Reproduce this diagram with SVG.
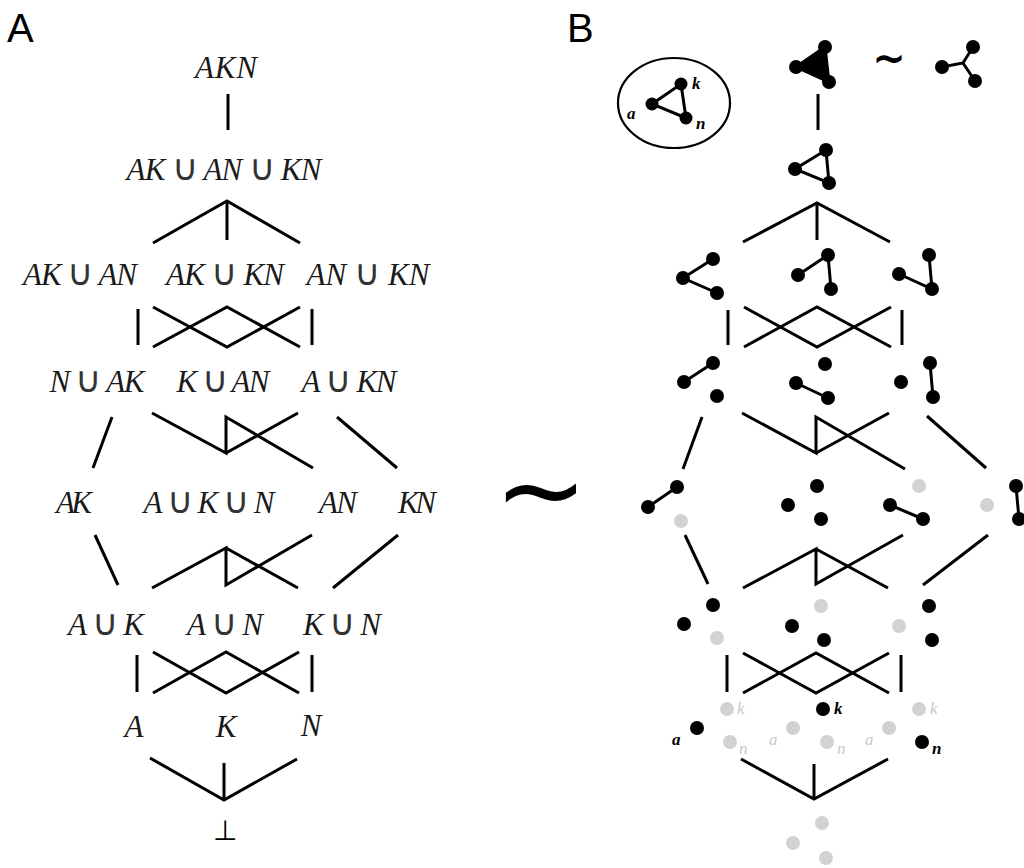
<svg xmlns="http://www.w3.org/2000/svg" width="1024" height="868" viewBox="0 0 1024 868">
<style>
.lbl{font-family:"Liberation Sans",Arial,sans-serif;font-size:40px;fill:#000}
.t{font-style:italic;font-size:31px;fill:#1a1a1a;text-anchor:middle}
.u{font-style:normal;font-weight:200;font-size:36px;fill:#333}
.e{stroke:#000;stroke-width:3;fill:none;stroke-linecap:butt;stroke-linejoin:miter}
.g{stroke:#000;stroke-width:3;fill:none}
.b{fill:#000}
.gr{fill:#d2d2d2}
.sl{font-style:italic;font-weight:bold;font-size:17px;fill:#000}
.sg{font-style:italic;font-size:17px;fill:#c8c8c8}
.tl{fill:#000}
</style>
<rect width="1024" height="868" fill="#fff"/>
<text class="lbl" x="7" y="42">A</text>
<text class="lbl" x="567" y="42">B</text>

<g id="panelA-nodes" font-family="'Liberation Serif', 'Times New Roman', serif">
<g id="a-akn"><text class="t" x="226" y="78" textLength="62">AKN</text></g>
<g id="a-ak-an-kn"><text class="t" x="224" y="180" textLength="195">AK <tspan class="u" font-family="'DejaVu Sans', sans-serif">∪</tspan> AN <tspan class="u" font-family="'DejaVu Sans', sans-serif">∪</tspan> KN</text></g>
<g id="a-ak-an"><text class="t" x="80" y="285" textLength="114">AK <tspan class="u" font-family="'DejaVu Sans', sans-serif">∪</tspan> AN</text></g>
<g id="a-ak-kn"><text class="t" x="225" y="285" textLength="118">AK <tspan class="u" font-family="'DejaVu Sans', sans-serif">∪</tspan> KN</text></g>
<g id="a-an-kn"><text class="t" x="368" y="285" textLength="123">AN <tspan class="u" font-family="'DejaVu Sans', sans-serif">∪</tspan> KN</text></g>
<g id="a-n-ak"><text class="t" x="97" y="392" textLength="95">N <tspan class="u" font-family="'DejaVu Sans', sans-serif">∪</tspan> AK</text></g>
<g id="a-k-an"><text class="t" x="223" y="392" textLength="93">K <tspan class="u" font-family="'DejaVu Sans', sans-serif">∪</tspan> AN</text></g>
<g id="a-a-kn"><text class="t" x="349" y="392" textLength="95">A <tspan class="u" font-family="'DejaVu Sans', sans-serif">∪</tspan> KN</text></g>
<g id="a-ak"><text class="t" x="74" y="513" textLength="36">AK</text></g>
<g id="a-a-k-n"><text class="t" x="209" y="513" textLength="131">A <tspan class="u" font-family="'DejaVu Sans', sans-serif">∪</tspan> K <tspan class="u" font-family="'DejaVu Sans', sans-serif">∪</tspan> N</text></g>
<g id="a-an"><text class="t" x="338" y="513" textLength="38">AN</text></g>
<g id="a-kn"><text class="t" x="417" y="513" textLength="38">KN</text></g>
<g id="a-a-k"><text class="t" x="106" y="635" textLength="76">A <tspan class="u" font-family="'DejaVu Sans', sans-serif">∪</tspan> K</text></g>
<g id="a-a-n"><text class="t" x="225" y="635" textLength="76">A <tspan class="u" font-family="'DejaVu Sans', sans-serif">∪</tspan> N</text></g>
<g id="a-k-n"><text class="t" x="342" y="635" textLength="78">K <tspan class="u" font-family="'DejaVu Sans', sans-serif">∪</tspan> N</text></g>
<g id="a-a"><text class="t" x="134" y="737">A</text></g>
<g id="a-k"><text class="t" x="226" y="737">K</text></g>
<g id="a-n"><text class="t" x="311" y="736">N</text></g>
<g id="a-bot"><text class="tl" x="225" y="840" font-size="28" text-anchor="middle" font-weight="200" font-family="'DejaVu Sans', sans-serif">⊥</text></g>
</g>

<text class="tl" x="541" y="528" font-size="112" text-anchor="middle" font-family="'DejaVu Sans', sans-serif">~</text>

<g id="connectors" class="e">
<!-- panel A -->
<line x1="228" y1="94" x2="228" y2="130"/>
<polyline points="153,243 227,201 300,243"/>
<line x1="227" y1="201" x2="227" y2="240"/>
<line x1="138" y1="309" x2="138" y2="345"/>
<line x1="312" y1="309" x2="312" y2="345"/>
<polyline points="153,307 227,347 300,307"/>
<polyline points="153,347 227,307 300,347"/>
<line x1="112" y1="417" x2="93" y2="468"/>
<polyline points="152,413 226,453 226,417 313,468"/>
<line x1="226" y1="453" x2="298" y2="413"/>
<line x1="337" y1="417" x2="397" y2="468"/>
<line x1="95" y1="535" x2="118" y2="585"/>
<polyline points="152,588 226,548 226,585 312,535"/>
<line x1="226" y1="548" x2="298" y2="588"/>
<line x1="333" y1="588" x2="398" y2="535"/>
<line x1="137" y1="655" x2="137" y2="692"/>
<line x1="312" y1="655" x2="312" y2="692"/>
<polyline points="153,652 226,693 299,652"/>
<polyline points="153,693 226,652 299,693"/>
<polyline points="150,758 224,800 297,759"/>
<line x1="224" y1="763" x2="224" y2="800"/>
<!-- panel B -->
<line x1="818" y1="94" x2="818" y2="130"/>
<polyline points="743,242 817,203 890,242"/>
<line x1="817" y1="203" x2="817" y2="240"/>
<line x1="728" y1="310" x2="728" y2="345"/>
<line x1="902" y1="310" x2="902" y2="345"/>
<polyline points="744,307 817,347 891,307"/>
<polyline points="744,347 817,307 891,347"/>
<line x1="702" y1="417" x2="683" y2="469"/>
<polyline points="742,413 816,453 816,417 905,469"/>
<line x1="816" y1="453" x2="889" y2="413"/>
<line x1="927" y1="416" x2="986" y2="468"/>
<line x1="685" y1="535" x2="708" y2="584"/>
<polyline points="743,588 816,549 816,584 903,535"/>
<line x1="816" y1="549" x2="888" y2="588"/>
<line x1="923" y1="585" x2="988" y2="535"/>
<line x1="727" y1="655" x2="727" y2="692"/>
<line x1="901" y1="655" x2="901" y2="692"/>
<polyline points="743,653 816,693 889,653"/>
<polyline points="743,693 816,653 889,693"/>
<polyline points="741,759 814,799 888,759"/>
<line x1="814" y1="764" x2="814" y2="799"/>
</g>

<g id="panelB-nodes" font-family="'Liberation Serif', 'Times New Roman', serif">
<g id="b-legend">
<ellipse cx="674" cy="103" rx="56" ry="45" fill="none" stroke="#000" stroke-width="2.2"/>
<polygon class="g" points="652,104 681,84 686,118"/>
<circle class="b" cx="652" cy="104" r="6.5"/><circle class="b" cx="681" cy="84" r="6.5"/><circle class="b" cx="686" cy="118" r="6.5"/>
<text class="sl" x="692" y="89">k</text><text class="sl" x="627" y="119">a</text><text class="sl" x="696" y="129">n</text>
</g>
<g id="b-top">
<polygon points="796,67 825,47 829,82" fill="#000" stroke="#000" stroke-width="3"/>
<circle class="b" cx="796" cy="67" r="7"/><circle class="b" cx="825" cy="47" r="7"/><circle class="b" cx="829" cy="82" r="7"/>
</g>
<text class="tl" x="889" y="72" font-size="40" font-weight="bold" text-anchor="middle" font-family="'DejaVu Sans', sans-serif">~</text>
<g id="b-star">
<polyline class="g" points="942,67 963,63 973,47"/><line class="g" x1="963" y1="63" x2="975" y2="81"/>
<circle class="b" cx="942" cy="67" r="7"/><circle class="b" cx="973" cy="47" r="7"/><circle class="b" cx="975" cy="81" r="7"/>
</g>
<g id="b-tri">
<polygon class="g" points="795,169 826,150 829,183"/>
<circle class="b" cx="795" cy="169" r="7"/><circle class="b" cx="826" cy="150" r="7"/><circle class="b" cx="829" cy="183" r="7"/>
</g>
<g id="b-r3-1">
<polyline class="g" points="713,259 683,278 717,293"/>
<circle class="b" cx="683" cy="278" r="7"/><circle class="b" cx="713" cy="259" r="7"/><circle class="b" cx="717" cy="293" r="7"/>
</g>
<g id="b-r3-2">
<polyline class="g" points="798,275 828,255 831,289"/>
<circle class="b" cx="798" cy="275" r="7"/><circle class="b" cx="828" cy="255" r="7"/><circle class="b" cx="831" cy="289" r="7"/>
</g>
<g id="b-r3-3">
<polyline class="g" points="899,274 932,289 929,255"/>
<circle class="b" cx="899" cy="274" r="7"/><circle class="b" cx="929" cy="255" r="7"/><circle class="b" cx="932" cy="289" r="7"/>
</g>
<g id="b-r4-1">
<line class="g" x1="684" y1="382" x2="713" y2="363"/>
<circle class="b" cx="684" cy="382" r="7"/><circle class="b" cx="713" cy="363" r="7"/><circle class="b" cx="717" cy="396" r="7"/>
</g>
<g id="b-r4-2">
<line class="g" x1="796" y1="383" x2="828" y2="398"/>
<circle class="b" cx="825" cy="364" r="7"/><circle class="b" cx="796" cy="383" r="7"/><circle class="b" cx="828" cy="398" r="7"/>
</g>
<g id="b-r4-3">
<line class="g" x1="930" y1="363" x2="933" y2="397"/>
<circle class="b" cx="901" cy="382" r="7"/><circle class="b" cx="930" cy="363" r="7"/><circle class="b" cx="933" cy="397" r="7"/>
</g>
<g id="b-r5-1">
<line class="g" x1="648" y1="507" x2="677" y2="487"/>
<circle class="b" cx="648" cy="507" r="7"/><circle class="b" cx="677" cy="487" r="7"/><circle class="gr" cx="681" cy="521" r="7"/>
</g>
<g id="b-r5-2">
<circle class="b" cx="817" cy="486" r="7"/><circle class="b" cx="788" cy="505" r="7"/><circle class="b" cx="821" cy="519" r="7"/>
</g>
<g id="b-r5-3">
<line class="g" x1="890" y1="505" x2="923" y2="519"/>
<circle class="gr" cx="919" cy="486" r="7"/><circle class="b" cx="890" cy="505" r="7"/><circle class="b" cx="923" cy="519" r="7"/>
</g>
<g id="b-r5-4">
<line class="g" x1="1016" y1="486" x2="1019" y2="519"/>
<circle class="gr" cx="987" cy="505" r="7"/><circle class="b" cx="1016" cy="486" r="7"/><circle class="b" cx="1019" cy="519" r="7"/>
</g>
<g id="b-r6-1">
<circle class="b" cx="713" cy="605" r="7"/><circle class="b" cx="684" cy="624" r="7"/><circle class="gr" cx="717" cy="638" r="7"/>
</g>
<g id="b-r6-2">
<circle class="gr" cx="821" cy="606" r="7"/><circle class="b" cx="792" cy="626" r="7"/><circle class="b" cx="824" cy="640" r="7"/>
</g>
<g id="b-r6-3">
<circle class="b" cx="929" cy="606" r="7"/><circle class="gr" cx="899" cy="626" r="7"/><circle class="b" cx="932" cy="640" r="7"/>
</g>
<g id="b-r7-a">
<circle class="gr" cx="727" cy="709" r="7"/><text class="sg" x="737" y="714">k</text>
<circle class="b" cx="697" cy="728" r="7"/><text class="sl" x="672" y="745">a</text>
<circle class="gr" cx="730" cy="742" r="7"/><text class="sg" x="739" y="754">n</text>
</g>
<g id="b-r7-k">
<circle class="b" cx="823" cy="709" r="7"/><text class="sl" x="834" y="714">k</text>
<circle class="gr" cx="793" cy="728" r="7"/><text class="sg" x="769" y="745">a</text>
<circle class="gr" cx="827" cy="742" r="7"/><text class="sg" x="837" y="754">n</text>
</g>
<g id="b-r7-n">
<circle class="gr" cx="919" cy="709" r="7"/><text class="sg" x="930" y="714">k</text>
<circle class="gr" cx="889" cy="728" r="7"/><text class="sg" x="865" y="745">a</text>
<circle class="b" cx="922" cy="742" r="7"/><text class="sl" x="932" y="754">n</text>
</g>
<g id="b-bottom">
<circle class="gr" cx="822" cy="823" r="7"/><circle class="gr" cx="793" cy="843" r="7"/><circle class="gr" cx="826" cy="858" r="7"/>
</g>
</g>
</svg>
